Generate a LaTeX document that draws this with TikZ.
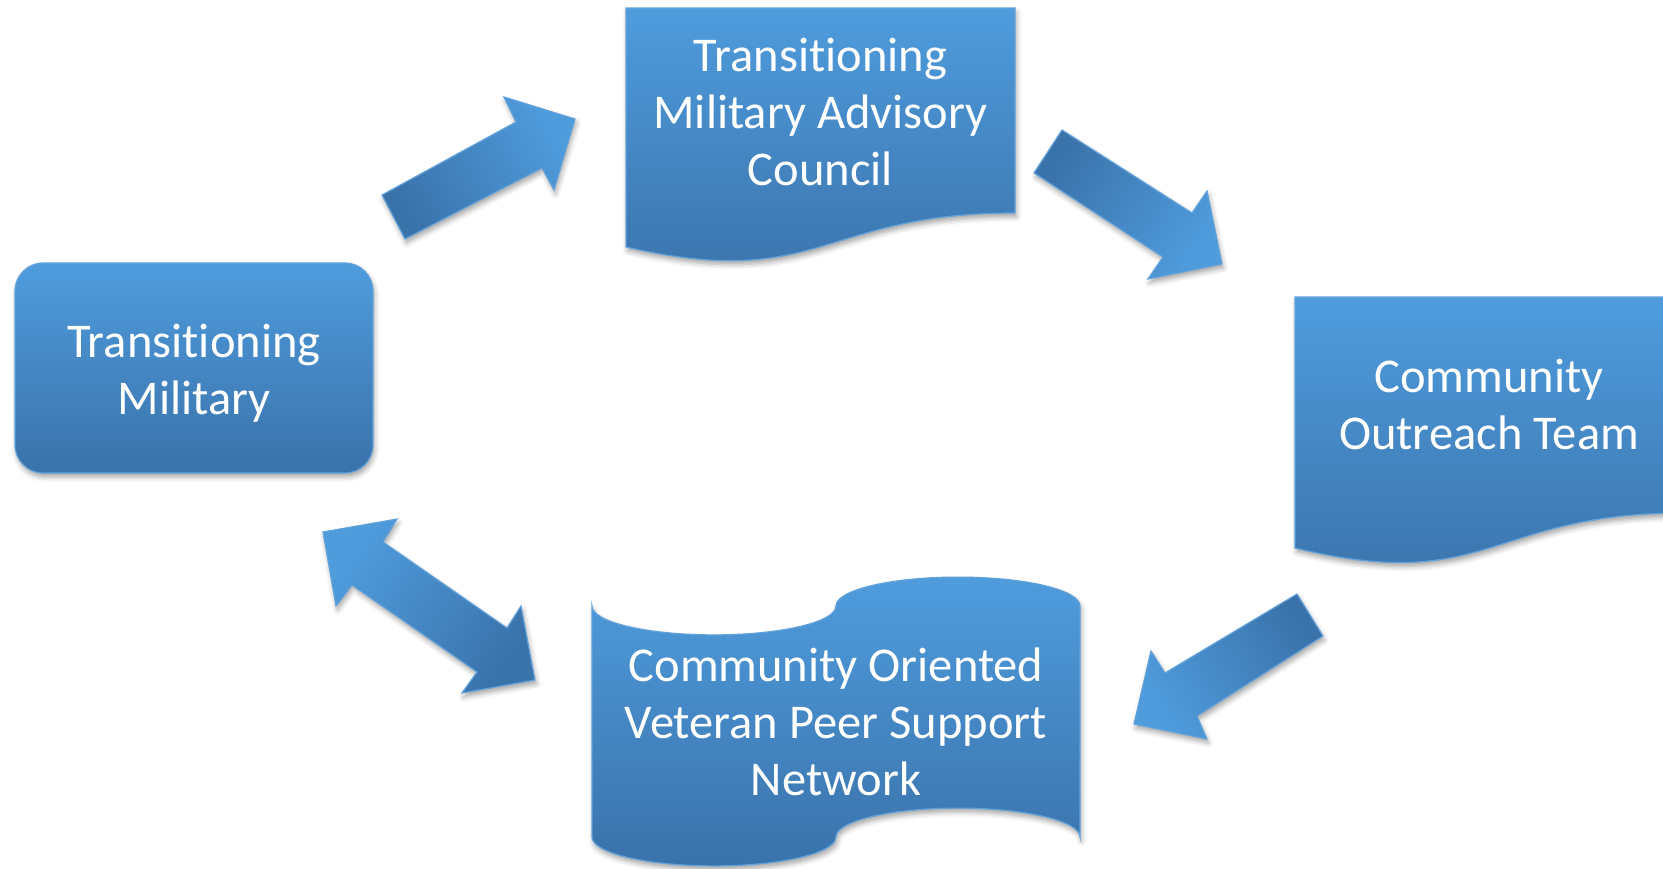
\documentclass[tikz,border=0pt]{standalone}
\usepackage{fontspec}
\setmainfont{Carlito}[Ligatures=NoCommon]
\usetikzlibrary{shadows.blur}

\definecolor{blueTop}{RGB}{79,156,221}
\definecolor{blueBot}{RGB}{58,114,170}
\definecolor{blueEdge}{RGB}{98,162,219}

\begin{document}
\begin{tikzpicture}[
    x=1pt, y=-1pt,
    panel/.style={top color=blueTop, bottom color=blueBot, draw=blueEdge, line width=1.2pt,
      blur shadow={shadow xshift=1.5pt, shadow yshift=-4pt, shadow blur radius=5pt, shadow opacity=35}},
    blockarrow/.style={panel},
    boxtext/.style={text=white, align=center, inner sep=0pt, font=\fontsize{48.5}{57}\selectfont}
    ]

    \useasboundingbox (0,0) rectangle (1663,868);

    % stages:
    \path[panel, rounded corners=28pt] (15,263) rectangle (373,473);
    \node[boxtext] (tmil) at (194,373) {Transitioning\\Military};

    \path[panel] (626,8) -- (1015,8) -- (1015,213)
      .. controls (820.5,213) and (820.5,291.5) .. (626,247) -- cycle;
    \node[boxtext] (tmac) at (820.5,112) {Transitioning\\Military Advisory\\Council};

    \path[panel] (1295,297) -- (1683,297) -- (1683,513)
      .. controls (1489,513) and (1489,595) .. (1295,548) -- cycle;
    \node[boxtext] (cot) at (1489,404) {Community\\Outreach Team};

    \path[panel] (592,606)
      arc[start angle=180, end angle=0, x radius=122, y radius=28.9]
      arc[start angle=180, end angle=360, x radius=122, y radius=28.9]
      -- (1080,837)
      arc[start angle=0, end angle=-180, x radius=122, y radius=28.9]
      arc[start angle=0, end angle=180, x radius=122, y radius=28.9] -- cycle;
    \node[boxtext] (covpsn) at (836,722) {Community Oriented\\Veteran Peer Support\\Network};

    % arrows:
    \path[blockarrow, shading angle=-61.6] (382,195) -- (516,122) -- (504,97) -- (575,119)
      -- (554,190) -- (542,168) -- (405,239) -- cycle;
    \path[blockarrow, shading angle=-122.9] (1062,130) -- (1192,213) -- (1207,191) -- (1222,264)
      -- (1148,279) -- (1163,257) -- (1034,173) -- cycle;
    \path[blockarrow, shading angle=121.8] (1297,594) -- (1323,636) -- (1197,716) -- (1207,739)
      -- (1134,724) -- (1151,651) -- (1165,673) -- cycle;
    \path[blockarrow, shading angle=55.1] (323,532) -- (397,519) -- (383,542) -- (507,628)
      -- (521,606) -- (535,680) -- (462,693) -- (477,672) -- (352,585) -- (336,606) -- cycle;

\end{tikzpicture}
\end{document}
